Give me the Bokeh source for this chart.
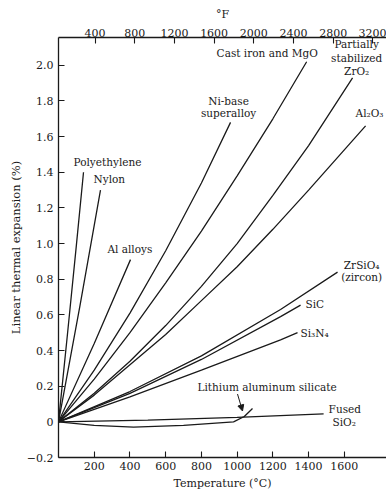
from bokeh.plotting import figure
from bokeh.models import Range1d, LinearAxis, FixedTicker, PrintfTickFormatter, Arrow, NormalHead, ColumnDataSource
from bokeh.core.properties import value
from bokeh.embed import file_html
from bokeh.resources import INLINE

# ---- data (temperature in °C, linear thermal expansion in %) ----
polyethylene_T = [0, 50, 100, 140]
polyethylene_E = [0, 0.49, 0.99, 1.40]
nylon_T = [0, 120, 235]
nylon_E = [0, 0.65, 1.30]
al_alloys_T = [0, 200, 403]
al_alloys_E = [0, 0.44, 0.91]
ni_base_T = [0, 200, 400, 600, 800, 963]
ni_base_E = [0, 0.29, 0.61, 0.96, 1.34, 1.68]
cast_iron_T = [0, 200, 400, 600, 800, 1000, 1200, 1389]
cast_iron_E = [0, 0.24, 0.50, 0.78, 1.07, 1.38, 1.70, 2.02]
zro2_T = [0, 200, 400, 600, 800, 1000, 1200, 1400, 1646]
zro2_E = [0, 0.16, 0.34, 0.54, 0.76, 1.00, 1.27, 1.55, 1.93]
al2o3_T = [0, 200, 400, 600, 800, 1000, 1200, 1400, 1719]
al2o3_E = [0, 0.15, 0.32, 0.49, 0.68, 0.87, 1.08, 1.30, 1.66]
zrsio4_T = [0, 400, 800, 1243, 1562]
zrsio4_E = [0, 0.17, 0.37, 0.63, 0.84]
sic_T = [0, 400, 800, 1243, 1355]
sic_E = [0, 0.16, 0.35, 0.59, 0.655]
si3n4_T = [0, 400, 800, 1243, 1338]
si3n4_E = [0, 0.14, 0.29, 0.46, 0.50]
las_T = [0, 200, 420, 700, 980, 1040, 1086]
las_E = [0, -0.02, -0.03, -0.02, 0.0, 0.03, 0.075]
fused_sio2_T = [0, 500, 1000, 1484]
fused_sio2_E = [0, 0.01, 0.025, 0.045]

series_T = [polyethylene_T, nylon_T, al_alloys_T, ni_base_T, cast_iron_T, zro2_T,
            al2o3_T, zrsio4_T, sic_T, si3n4_T, las_T, fused_sio2_T]
series_E = [polyethylene_E, nylon_E, al_alloys_E, ni_base_E, cast_iron_E, zro2_E,
            al2o3_E, zrsio4_E, sic_E, si3n4_E, las_E, fused_sio2_E]

# curve labels (text, anchor temperature, anchor expansion, alignment)
label_text = ["Polyethylene", "Nylon", "Al alloys", "Ni-base", "superalloy",
              "Cast iron and MgO", "Partially", "stabilized", "ZrO\u2082", "Al\u2082O\u2083",
              "ZrSiO\u2084", "(zircon)", "SiC", "Si\u2083N\u2084",
              "Lithium aluminum silicate", "Fused", "SiO\u2082"]
label_T = [84, 196, 274, 952, 952, 885, 1669, 1669, 1669, 1741, 1697, 1697, 1383, 1355, 778, 1512, 1534]
label_E = [1.46, 1.36, 0.97, 1.80, 1.73, 2.07, 2.12, 2.04, 1.97, 1.73, 0.88, 0.81, 0.66, 0.50, 0.195, 0.073, 0.0]
label_align = ["left", "left", "left", "center", "center", "left", "center", "center", "center",
               "center", "center", "center", "left", "left", "left", "left", "left"]

C_ticks = [200, 400, 600, 800, 1000, 1200, 1400, 1600]
F_ticks = [400, 800, 1200, 1600, 2000, 2400, 2800, 3200]
E_ticks = [-0.2, 0, 0.2, 0.4, 0.6, 0.8, 1.0, 1.2, 1.4, 1.6, 1.8, 2.0]

T_min, T_max = 0, 1836
E_min, E_max = -0.2, 2.156

FONT = "DejaVu Serif"
INK = "#1a1a1a"

p = figure(width=386, height=494, output_backend="svg", toolbar_location=None,
           x_range=Range1d(T_min, T_max), y_range=Range1d(E_min, E_max),
           min_border_left=58, min_border_top=37, min_border_right=0, min_border_bottom=37)
p.outline_line_color = None
p.grid.visible = False
p.background_fill_color = "white"

p.extra_x_ranges = {"F": Range1d(T_min * 9 / 5 + 32, T_max * 9 / 5 + 32)}
top = LinearAxis(x_range_name="F", ticker=FixedTicker(ticks=F_ticks), axis_label="°F")
p.add_layout(top, "above")

bottom = p.below[0]
left = p.left[0]
bottom.ticker = FixedTicker(ticks=C_ticks)
left.ticker = FixedTicker(ticks=E_ticks)
left.formatter = PrintfTickFormatter(format="%.1f")
left.major_label_overrides = {0: "0", -0.2: "\u22120.2"}
bottom.axis_label = "Temperature (°C)"
left.axis_label = "Linear thermal expansion (%)"

for ax in (bottom, left, top):
    ax.axis_line_color = INK
    ax.axis_line_width = 1.3
    ax.major_tick_line_color = INK
    ax.major_tick_line_width = 1.1
    ax.major_tick_in = 6
    ax.major_tick_out = 0
    ax.minor_tick_line_color = None
    ax.major_label_text_font = FONT
    ax.major_label_text_font_size = "11px"
    ax.major_label_text_color = INK
    ax.axis_label_text_font = FONT
    ax.axis_label_text_font_size = "11px"
    ax.axis_label_text_font_style = "normal"
    ax.axis_label_text_color = INK

bottom.major_label_standoff = 4
bottom.axis_label_standoff = 4
top.major_label_standoff = 1
top.axis_label_standoff = 5
left.major_label_standoff = 5
left.axis_label_standoff = 1
left.axis_label_text_font_size = "11.5px"

for T, E in zip(series_T, series_E):
    p.line(T, E, line_color=INK, line_width=1.3)

src = ColumnDataSource(dict(x=label_T, y=label_E, text=label_text, align=label_align))
p.text(x="x", y="y", text="text", source=src, text_align="align", text_baseline="middle",
       text_font=value(FONT), text_font_size="10.5px", text_color=INK)

p.add_layout(Arrow(end=NormalHead(size=6, fill_color=INK, line_color=INK),
                   x_start=1002, y_start=0.156, x_end=1030, y_end=0.061,
                   line_color=INK, line_width=1))

open("out.html", "w").write(file_html(p, INLINE))
